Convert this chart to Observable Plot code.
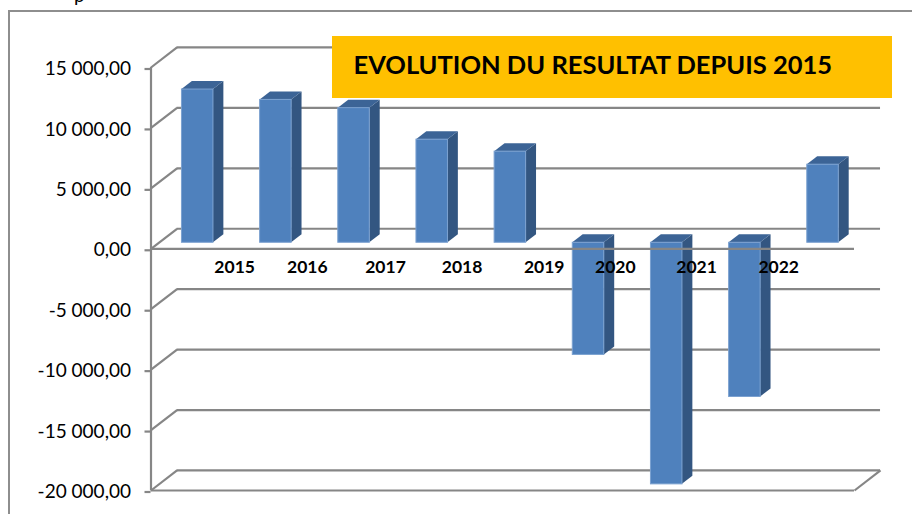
<!DOCTYPE html>
<html><head><meta charset="utf-8">
<script src="https://cdn.jsdelivr.net/npm/d3@7"></script>
<script src="https://cdn.jsdelivr.net/npm/@observablehq/plot@0.6"></script>
<style>
html,body{margin:0;padding:0;background:#fff}
#wrap{position:relative;width:912px;height:514px;overflow:hidden}
#wrap svg{position:absolute;left:0;top:0}
#frame{position:absolute;left:8px;top:10px;width:920px;height:520px;border:2px solid #8e8e8e;box-sizing:border-box}
#title{position:absolute;left:332px;top:36px;width:560px;height:62px;background:#ffc000;font:bold 25.5px Lato,sans-serif;color:#000;line-height:56px;padding-left:21.5px;box-sizing:border-box;white-space:nowrap}
#cut{position:absolute;left:74px;top:-17px;font:19px Lato,sans-serif;color:#000}
</style></head><body>
<div id="wrap"><div id="cut">p</div><div id="frame"></div><div id="chart"></div><div id="title">EVOLUTION DU RESULTAT DEPUIS 2015</div></div>
<script>
const years = ["2015","2016","2017","2018","2019","2020","2021","2022",""];
const results = [12680,11820,11140,8530,7540,-9280,-19990,-12760,6460];
const yTicks = [15000,10000,5000,0,-5000,-10000,-15000,-20000];
const labelSlots = [1.07,2.0,3,3.98,5.03,5.94,6.98,8.03];

const wallX = 0.333, wallY = 1657;
const barStart = 0.396, barWidth = 0.403;
const depthFront = 0.3, depthBack = 0.7;
const depthX = wallX*(depthBack-depthFront), depthY = wallY*(depthBack-depthFront);
const baseY = wallY*depthFront;

const fmt = v => d3.format(",.2f")(Math.abs(v)).replace(/,/g,"\u00a0").replace(".",",").replace(/^/, v<0?"-":"");
const grey = "#868686";

const fronts = results.map((v,i)=>({i, x1:i+barStart, x2:i+barStart+barWidth, y1:baseY, y2:baseY+v}));
const topV = d => Math.max(d.y1,d.y2), botV = d => Math.min(d.y1,d.y2);
const sides = fronts.flatMap(d=>[
  {i:d.i,x:d.x2,y1:botV(d),y2:topV(d)},
  {i:d.i,x:d.x2+depthX,y1:botV(d)+depthY,y2:topV(d)+depthY}]);
const tops = fronts.flatMap(d=>{const t=topV(d);return [
  {i:d.i,x:d.x1,y1:t,y2:t},
  {i:d.i,x:d.x1+depthX,y1:t,y2:t+depthY},
  {i:d.i,x:d.x2,y1:t,y2:t+depthY},
  {i:d.i,x:d.x2+depthX,y1:t+depthY,y2:t+depthY}]});

const svg = Plot.plot({
  width:912,height:514,marginLeft:150.5,marginRight:58,marginTop:67,marginBottom:24,
  style:{background:"transparent",fontFamily:"Lato, sans-serif",color:"#000"},
  x:{type:"linear",domain:[0,9],axis:null},
  y:{domain:[-20000,15000],axis:null},
  marks:[
    Plot.ruleY(yTicks,{y:d=>d+wallY,x1:wallX,x2:9+wallX,stroke:grey,strokeWidth:2.2}),
    Plot.link(yTicks,{x1:0,x2:wallX,y1:d=>d,y2:d=>d+wallY,stroke:grey,strokeWidth:2.2}),
    Plot.link([-20000],{x1:9,x2:9+wallX,y1:d=>d,y2:d=>d+wallY,stroke:grey,strokeWidth:2.2}),
    Plot.ruleY([-20000],{x1:0,x2:9,stroke:grey,strokeWidth:2.2}),
    Plot.ruleX([0],{y1:-20000,y2:15000,stroke:grey,strokeWidth:2.2}),
    Plot.areaY(sides,{x:"x",y1:"y1",y2:"y2",z:"i",fill:"#335681"}),
    Plot.areaY(tops,{x:"x",y1:"y1",y2:"y2",z:"i",fill:"#3c6496"}),
    Plot.rect(fronts,{x1:"x1",x2:"x2",y1:"y1",y2:"y2",fill:"#4f81bd",stroke:"#7ba1d0",strokeWidth:1}),
    Plot.ruleY([0],{x1:0,x2:9,stroke:grey,strokeWidth:2.2}),
    Plot.axisY({ticks:yTicks,tickFormat:fmt,tickSize:6,tickPadding:14,stroke:grey,strokeWidth:2.2,fontSize:19,label:null,fill:"#000",dy:1.5}),
    Plot.text(years.slice(0,8),{x:(d,i)=>labelSlots[i],y:-1550,text:d=>d,fontSize:17.5,fontWeight:"bold",fill:"#000"}),
  ]
});
document.getElementById("chart").appendChild(svg);
</script>
</body></html>
